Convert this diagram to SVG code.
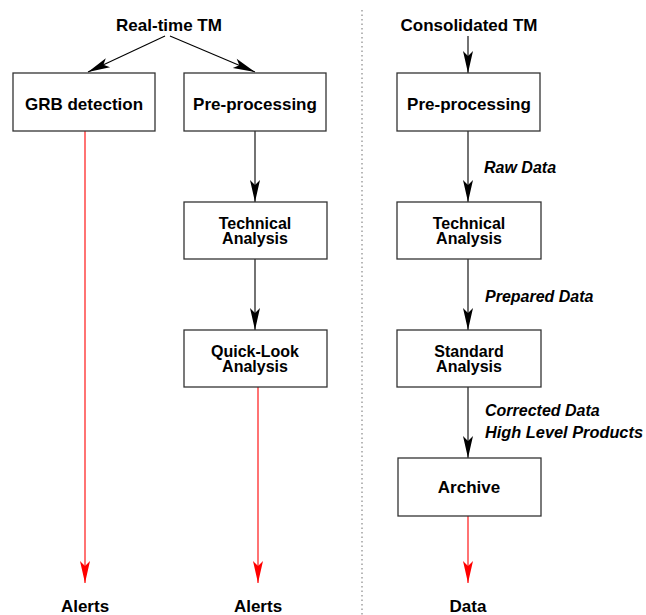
<svg xmlns="http://www.w3.org/2000/svg" width="646" height="615" viewBox="0 0 646 615">
<defs>
<style>
.box{fill:#fff;stroke:#333;stroke-width:1.3}
.t{font-family:"Liberation Sans",Arial,sans-serif;font-weight:bold;font-size:17px;text-anchor:middle;fill:#000}
.t2{font-family:"Liberation Sans",Arial,sans-serif;font-weight:bold;font-size:16px;text-anchor:middle;fill:#000}
.lbl{font-family:"Liberation Sans",Arial,sans-serif;font-weight:bold;font-style:italic;font-size:16px;fill:#000}
.bk{stroke:#000;stroke-width:1.1;fill:none;marker-end:url(#ab)}
.rd{stroke:#f00;stroke-width:1.1;fill:none;marker-end:url(#ar)}
</style>
<marker id="ab" viewBox="-23 -6 24 12" refX="0" refY="0" markerWidth="24" markerHeight="12" markerUnits="userSpaceOnUse" orient="auto">
<path d="M0,0 L-22,-5 L-17,0 L-22,5 Z" fill="#000"/>
</marker>
<marker id="ar" viewBox="-23 -6 24 12" refX="0" refY="0" markerWidth="24" markerHeight="12" markerUnits="userSpaceOnUse" orient="auto">
<path d="M0,0 L-22,-5 L-17,0 L-22,5 Z" fill="#f00"/>
</marker>
</defs>
<rect width="646" height="615" fill="#fff"/>
<line x1="362" y1="10" x2="362" y2="615" stroke="#888" stroke-width="1.2" stroke-dasharray="1.5 3"/>
<g id="connectors">
<line class="bk" x1="165" y1="36" x2="88" y2="72"/>
<line class="bk" x1="170" y1="36" x2="255" y2="72"/>
<line class="bk" x1="255" y1="131" x2="255" y2="202"/>
<line class="bk" x1="255" y1="259" x2="255" y2="330"/>
<line class="rd" x1="85" y1="131" x2="85" y2="583"/>
<line class="rd" x1="258" y1="387" x2="258" y2="583"/>
<line class="bk" x1="468" y1="36" x2="468" y2="73"/>
<line class="bk" x1="468" y1="131" x2="468" y2="202"/>
<line class="bk" x1="468" y1="259" x2="468" y2="330"/>
<line class="bk" x1="468" y1="387" x2="468" y2="458"/>
<line class="rd" x1="468" y1="516" x2="468" y2="583"/>
</g>
<g id="labels">
<text class="t" x="169" y="31">Real-time TM</text>
<text class="t" x="469" y="31">Consolidated TM</text>
<text class="lbl" x="484" y="173">Raw Data</text>
<text class="lbl" x="485" y="302">Prepared Data</text>
<text class="lbl" x="485" y="416">Corrected Data</text>
<text class="lbl" x="485" y="438" textLength="158" lengthAdjust="spacingAndGlyphs">High Level Products</text>
<text class="t" x="85" y="612">Alerts</text>
<text class="t" x="258" y="612">Alerts</text>
<text class="t" x="468" y="612">Data</text>
</g>
<g id="grb"><rect class="box" x="13" y="73" width="142" height="58"/><text class="t" x="84" y="110">GRB detection</text></g>
<g id="pre-left"><rect class="box" x="184" y="73" width="142" height="58"/><text class="t" x="255" y="110">Pre-processing</text></g>
<g id="tech-left"><rect class="box" x="184" y="202" width="143" height="57"/><text class="t2" x="255" y="229">Technical</text><text class="t2" x="255" y="244">Analysis</text></g>
<g id="quicklook"><rect class="box" x="184" y="330" width="143" height="57"/><text class="t2" x="255" y="357">Quick-Look</text><text class="t2" x="255" y="372">Analysis</text></g>
<g id="pre-right"><rect class="box" x="397" y="73" width="143" height="58"/><text class="t" x="469" y="110">Pre-processing</text></g>
<g id="tech-right"><rect class="box" x="397" y="202" width="144" height="57"/><text class="t2" x="469" y="229">Technical</text><text class="t2" x="469" y="244">Analysis</text></g>
<g id="standard"><rect class="box" x="397" y="330" width="144" height="57"/><text class="t2" x="469" y="357">Standard</text><text class="t2" x="469" y="372">Analysis</text></g>
<g id="archive"><rect class="box" x="398" y="458" width="143" height="58"/><text class="t" x="469" y="493">Archive</text></g>
</svg>
